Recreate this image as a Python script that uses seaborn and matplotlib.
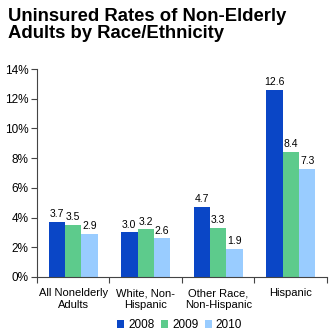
import matplotlib
matplotlib.use("Agg")
import matplotlib.pyplot as plt
import seaborn as sns
import pandas as pd
from matplotlib.patches import Patch

categories = ["All Nonelderly\nAdults", "White, Non-\nHispanic", "Other Race,\nNon-Hispanic", "Hispanic"]
years = ["2008", "2009", "2010"]
rates_2008 = [3.7, 3.0, 4.7, 12.6]
rates_2009 = [3.5, 3.2, 3.3, 8.4]
rates_2010 = [2.9, 2.6, 1.9, 7.3]
colors = ["#0A46C6", "#5DCB8C", "#99CCFF"]

rows = []
for yr, vals in zip(years, [rates_2008, rates_2009, rates_2010]):
    for cat, v in zip(categories, vals):
        rows.append({"group": cat, "year": yr, "rate": v})
df = pd.DataFrame(rows)

sns.set_style("white")
plt.rcParams["font.family"] = ["Liberation Sans", "DejaVu Sans"]
plt.rcParams["text.color"] = "black"
plt.rcParams["xtick.color"] = "black"
plt.rcParams["ytick.color"] = "black"

fig = plt.figure(figsize=(3.33, 3.36), dpi=100)
ax = fig.add_axes([0.111, 0.1756, 0.871, 0.619])

sns.barplot(data=df, x="group", y="rate", hue="year", order=categories,
            hue_order=years, palette=colors, width=0.68, saturation=1,
            edgecolor="none", ax=ax, legend=False)

for cont in ax.containers:
    ax.bar_label(cont, labels=[f"{b.get_height():.1f}" for b in cont],
                 padding=2, fontsize=7.5, color="black")

ax.set_ylim(0, 14)
ax.set_xlim(-0.5, 3.5)
ax.set_yticks(range(0, 15, 2))
ax.set_yticklabels([f"{t}%" for t in range(0, 15, 2)], fontsize=8.5)
ax.set_xticks(range(4))
ax.set_xticklabels(categories, fontsize=8)
ax.set_xlabel("")
ax.set_ylabel("")

# tick marks between groups along the x axis
ax.set_xticks([-0.5, 0.5, 1.5, 2.5, 3.5], minor=True)
ax.tick_params(axis="x", which="major", length=0, pad=8)
ax.tick_params(axis="x", which="minor", length=4, width=0.8, color="#444444", direction="out")
ax.tick_params(axis="y", length=4, width=0.8, color="#444444", direction="out", pad=2)
ax.xaxis.set_ticks_position("bottom")
ax.yaxis.set_ticks_position("left")

sns.despine(ax=ax)
for s in ["left", "bottom"]:
    ax.spines[s].set_color("#444444")
    ax.spines[s].set_linewidth(0.8)

fig.text(0.024, 0.975, "Uninsured Rates of Non-Elderly\nAdults by Race/Ethnicity",
         fontsize=13.3, fontweight="bold", ha="left", va="top", linespacing=1.0,
         color="black")

handles = [Patch(facecolor=c, edgecolor="none") for c in colors]
fig.legend(handles, years, loc="center", bbox_to_anchor=(0.54, 0.032), ncol=3,
           frameon=False, fontsize=8.5, handlelength=0.6, handleheight=0.6,
           handletextpad=0.3, columnspacing=0.6)

fig.savefig("out.png", dpi=100)
